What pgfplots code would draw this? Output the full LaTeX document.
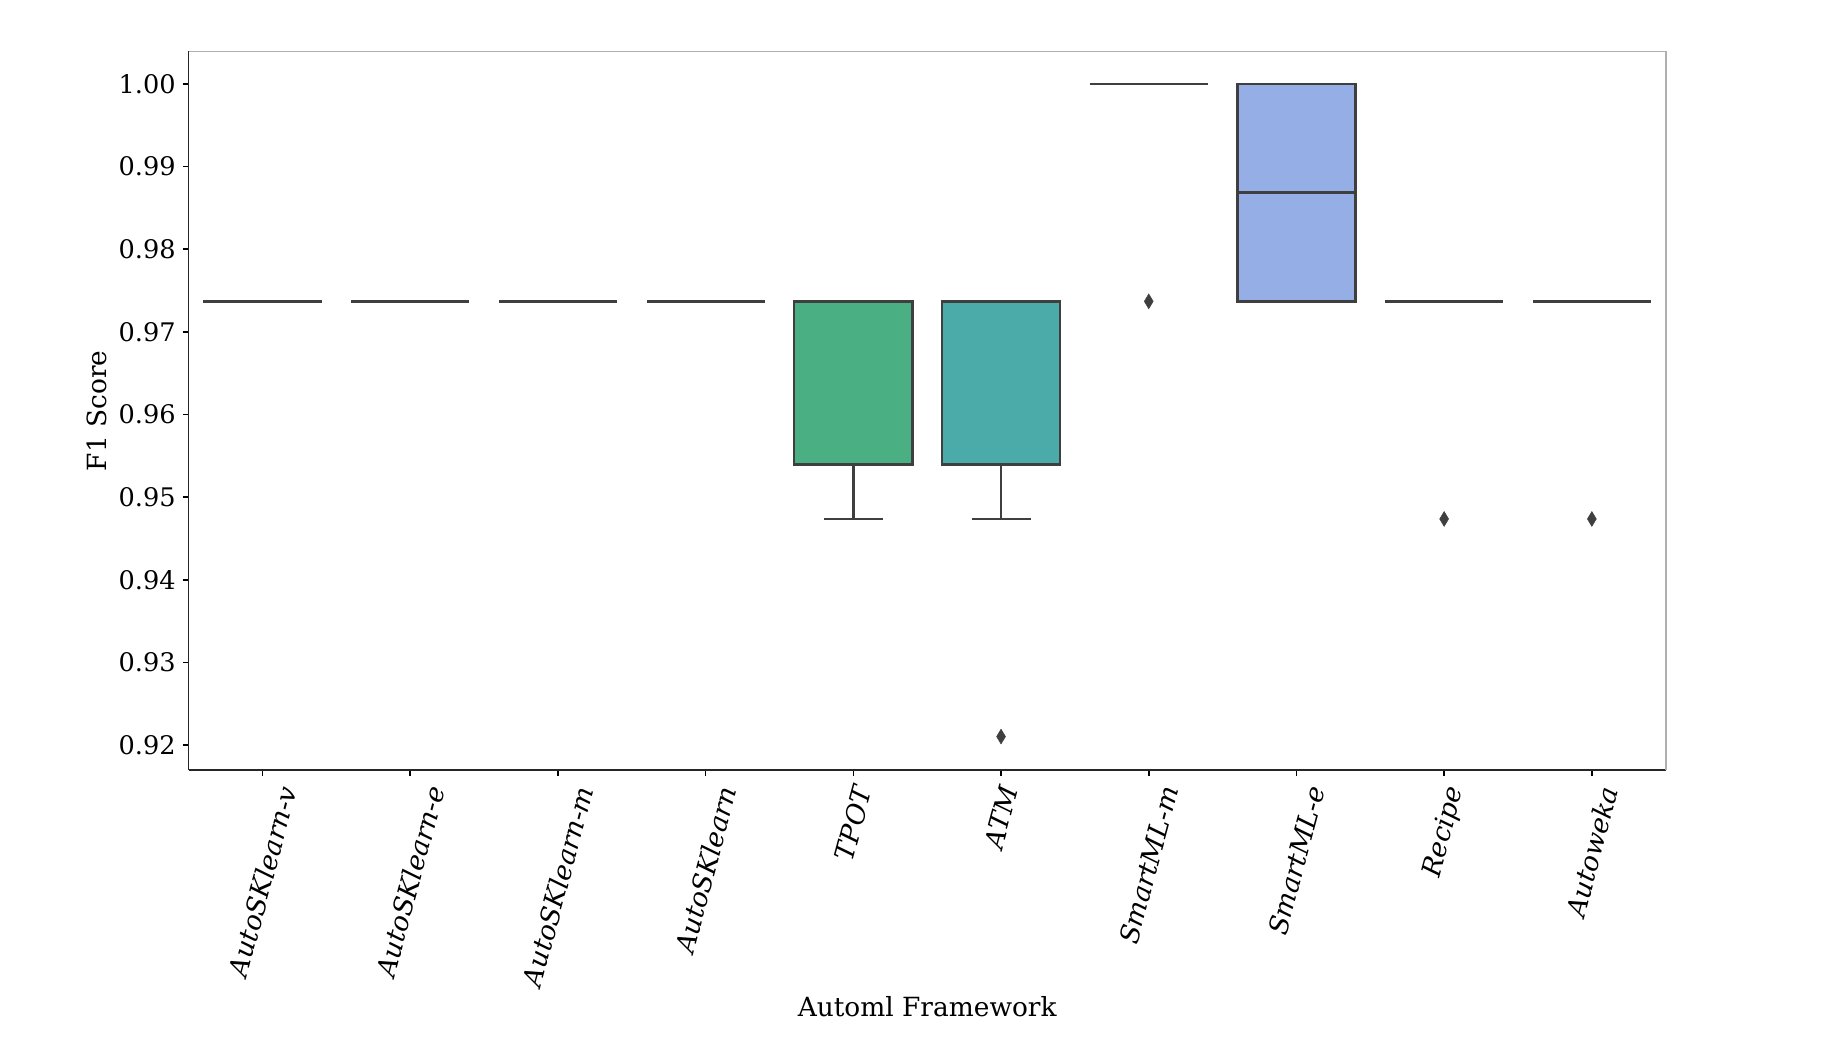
\documentclass[border=0pt]{standalone}
\usepackage{fontspec}
\setmainfont{DejaVu Serif}
\usepackage{graphicx}
\usepackage{pgfplots}
\pgfplotsset{compat=1.18}

\definecolor{edge}{RGB}{63,63,63}
\definecolor{spine}{RGB}{175,175,175}
\definecolor{ctpot}{RGB}{74,176,132}
\definecolor{catm}{RGB}{74,171,169}
\definecolor{csmle}{RGB}{149,174,229}

\newcommand{\rl}[1]{\rotatebox{75}{#1}}

\pgfplotsset{
  ln/.style={draw=edge, line width=1.2pt, mark=none},
  box/.style={draw=edge, line width=1.2pt, mark=none, line join=miter},
  outl/.style={only marks, mark=diamond*, mark size=3.75pt,
    mark options={draw=edge, fill=edge, line width=0.2pt, xscale=0.8}},
}

\begin{document}
\begin{tikzpicture}
\path[use as bounding box] (-94.35pt,-136pt) rectangle (821.65pt,385.05pt);
\begin{axis}[
    at={(0,0)}, anchor=south west,
    scale only axis,
    width=738.5pt, height=359.3pt,
    xmin=-0.5, xmax=9.5,
    ymin=0.917, ymax=1.0039,
    axis x line*=bottom, axis y line*=left,
    axis line style={draw=black!85, line width=0.8pt},
    tick align=outside,
    major tick length=3pt,
    tick style={black, line width=0.8pt},
    xtick={0,...,9},
    xticklabels={\rl{AutoSKlearn-v},\rl{AutoSKlearn-e},\rl{AutoSKlearn-m},\rl{AutoSKlearn},\rl{TPOT},\rl{ATM},\rl{SmartML-m},\rl{SmartML-e},\rl{Recipe},\rl{Autoweka}},
    xticklabel style={anchor=north, inner sep=0pt, yshift=-4pt,
      font=\itshape\fontsize{13.3}{15}\selectfont},
    ytick={0.92,0.93,0.94,0.95,0.96,0.97,0.98,0.99,1.00},
    /pgf/number format/assume math mode=true,
    yticklabel style={/pgf/number format/.cd, fixed, fixed zerofill, precision=2,
      /tikz/.cd, font=\fontsize{12.8}{15}\selectfont},
    xlabel={Automl Framework},
    ylabel={F1 Score},
    xlabel style={at={(axis description cs:0.5,0)}, anchor=center, yshift=-118.3pt,
      font=\fontsize{13.2}{16}\selectfont},
    ylabel style={at={(axis description cs:0,0.5)}, anchor=center, yshift=45.85pt,
      font=\fontsize{13.2}{16}\selectfont},
    clip=false,
]
\draw[spine, line width=0.8pt] (rel axis cs:0,1) -- (rel axis cs:1,1) -- (rel axis cs:1,0);

% collapsed boxes (all scores equal)
\addplot[ln] coordinates {(-0.4,0.973684) (0.4,0.973684)};
\addplot[ln] coordinates {(0.6,0.973684) (1.4,0.973684)};
\addplot[ln] coordinates {(1.6,0.973684) (2.4,0.973684)};
\addplot[ln] coordinates {(2.6,0.973684) (3.4,0.973684)};

% TPOT
\addplot[box, fill=ctpot] coordinates {(3.6,0.953947) (4.4,0.953947) (4.4,0.973684) (3.6,0.973684)} -- cycle;
\addplot[ln] coordinates {(4,0.953947) (4,0.947368)};
\addplot[ln] coordinates {(3.8,0.947368) (4.2,0.947368)};

% ATM
\addplot[box, fill=catm] coordinates {(4.6,0.953947) (5.4,0.953947) (5.4,0.973684) (4.6,0.973684)} -- cycle;
\addplot[ln] coordinates {(5,0.953947) (5,0.947368)};
\addplot[ln] coordinates {(4.8,0.947368) (5.2,0.947368)};
\addplot[outl] coordinates {(5,0.921053)};

% SmartML-m
\addplot[ln] coordinates {(5.6,1.0) (6.4,1.0)};
\addplot[outl] coordinates {(6,0.973684)};

% SmartML-e
\addplot[box, fill=csmle] coordinates {(6.6,0.973684) (7.4,0.973684) (7.4,1.0) (6.6,1.0)} -- cycle;
\addplot[ln] coordinates {(6.6,0.986842) (7.4,0.986842)};

% Recipe
\addplot[ln] coordinates {(7.6,0.973684) (8.4,0.973684)};
\addplot[outl] coordinates {(8,0.947368)};

% Autoweka
\addplot[ln] coordinates {(8.6,0.973684) (9.4,0.973684)};
\addplot[outl] coordinates {(9,0.947368)};
\end{axis}
\end{tikzpicture}
\end{document}
